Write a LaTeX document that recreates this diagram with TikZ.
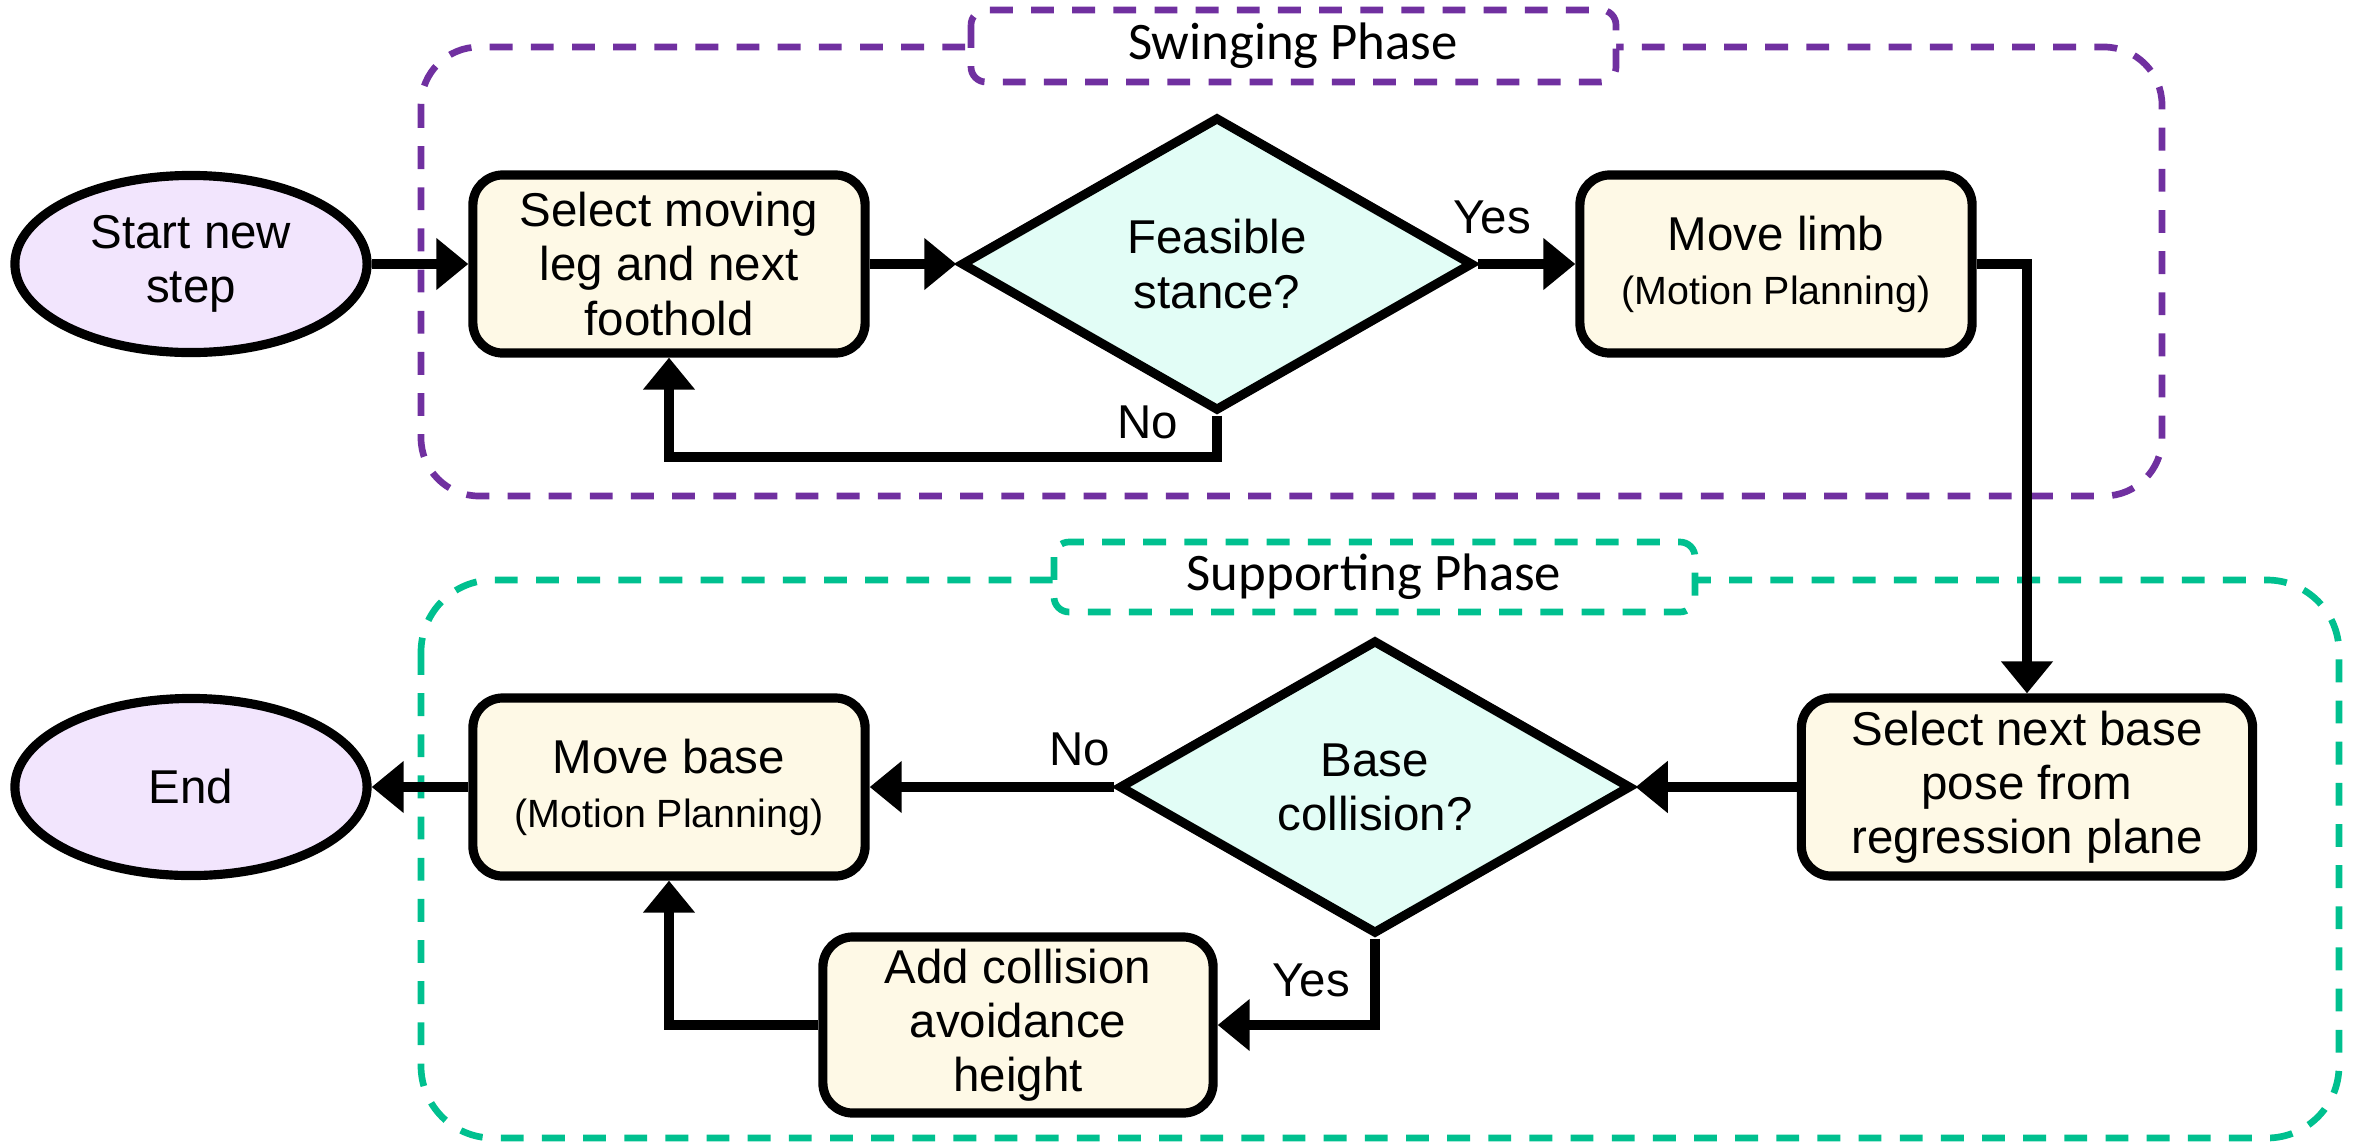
\documentclass[tikz,border=0pt]{standalone}
\usepackage{fontspec}
\setmainfont{Liberation Sans}
\newfontfamily\calibri{Carlito}
\usetikzlibrary{shapes.geometric,arrows.meta}
\definecolor{swpurple}{HTML}{7030A0}
\definecolor{supgreen}{HTML}{00C08F}
\definecolor{ellfill}{HTML}{F2E5FD}
\definecolor{boxfill}{HTML}{FEF9E6}
\definecolor{diafill}{HTML}{E2FDF6}
\newcommand{\mpfont}{\fontsize{11.2}{13}\selectfont}
\tikzset{
  base/.style={draw=black, line width=2.6pt, align=center, inner sep=2pt,
    font=\fontsize{13.5}{15.4}\selectfont},
  term/.style={base, ellipse, fill=ellfill, minimum width=3.52cm, minimum height=1.77cm},
  procbox/.style={base, rectangle, rounded corners=0.3cm, fill=boxfill, minimum width=3.92cm, minimum height=1.78cm},
  decide/.style={base, diamond, fill=diafill, minimum width=5.12cm, minimum height=2.94cm, inner sep=0pt},
  arr/.style={line width=2.7pt, -{Triangle[length=0.32cm, width=0.5cm]}},
  phase/.style={line width=1.9pt, dash pattern=on 6.5pt off 5.2pt},
  phaselabel/.style={phase, fill=white, rounded corners=0.15cm},
  lbl/.style={font=\fontsize{13.5}{15.4}\selectfont, inner sep=0pt},
  phasetext/.style={font=\calibri\fontsize{15}{18}\selectfont, inner sep=0pt}
}
\begin{document}
\begin{tikzpicture}[x=0.01cm, y=-0.01cm]
\useasboundingbox (0,0) rectangle (2354,1142);
% phase frames
\draw[phase, draw=swpurple, rounded corners=0.58cm] (421,47) rectangle (2162,496);
\draw[phase, draw=supgreen, rounded corners=0.72cm] (421,580) rectangle (2339,1138);
\draw[phaselabel, draw=swpurple] (971,10) rectangle (1616,82);
\node[phasetext] (swlabel) at (1293,46) {Swinging Phase};
\draw[phaselabel, draw=supgreen] (1054,542) rectangle (1695,612);
\node[phasetext] (suplabel) at (1374,577) {Supporting Phase};
% nodes
\node[term] (start) at (191,264) {Start new\\step};
\node[procbox] (sel) at (669,264) {Select moving\\leg and next\\foothold};
\node[decide] (feas) at (1217,264) {Feasible\\stance?};
\node[procbox] (limb) at (1776,264) {Move limb\\{\mpfont (Motion Planning)}};
\node[procbox, minimum width=4.51cm] (nbase) at (2027,787) {Select next base\\pose from\\regression plane};
\node[decide] (bcol) at (1375,787) {Base\\collision?};
\node[procbox] (mbase) at (669,787) {Move base\\{\mpfont (Motion Planning)}};
\node[term] (endn) at (191,787) {End};
\node[procbox, minimum width=3.90cm, minimum height=1.76cm] (addc) at (1018,1025) {Add collision\\avoidance\\height};
\coordinate (nobend) at (1217,457);
% connectors
\draw[arr] (start.east) -- (sel.west);
\draw[arr] (sel.east) -- (feas.west);
\draw[arr] (feas.east) -- (limb.west);
\draw[arr] (feas.south) -- (nobend) -| (sel.south);
\draw[arr] (limb.east) -| (nbase.north);
\draw[arr] (nbase.west) -- (bcol.east);
\draw[arr] (bcol.west) -- (mbase.east);
\draw[arr] (mbase.west) -- (endn.east);
\draw[arr] (bcol.south) |- (addc.east);
\draw[arr] (addc.west) -| (mbase.south);
% labels
\node[lbl] (yes1) at (1492,217) {Yes};
\node[lbl] (no1) at (1148,422) {No};
\node[lbl] (no2) at (1080,749) {No};
\node[lbl] (yes2) at (1311,980) {Yes};
\end{tikzpicture}
\end{document}
